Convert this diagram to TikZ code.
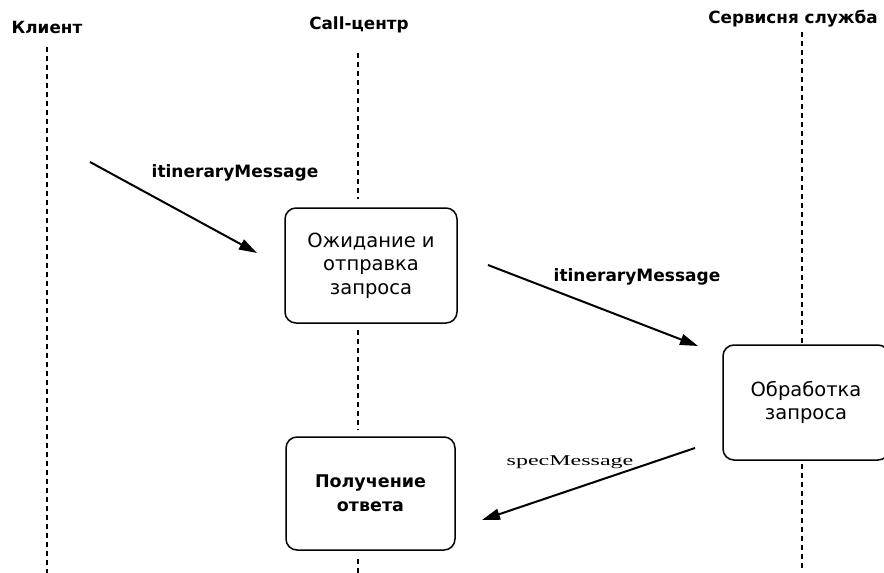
\documentclass[tikz,border=0pt]{standalone}
\usepackage{fontspec}
\setmainfont{DejaVu Sans}
\newfontfamily\serifwide[FakeStretch=1.6]{Liberation Serif}
\usetikzlibrary{arrows.meta}
\tikzset{
  lifeline/.style={dashed, dash pattern=on 5pt off 4pt, line width=1.1pt},
  actbox/.style={draw, rounded corners=11pt, line width=1.5pt, align=center,
    font=\fontsize{19.5}{23.5}\selectfont},
  headlabel/.style={font=\bfseries\fontsize{16.8}{20}\selectfont},
  msg/.style={line width=2pt, -{Triangle[length=18pt,width=11pt]}},
  msglabel/.style={font=\bfseries\fontsize{17}{20}\selectfont}
}
\begin{document}
\begin{tikzpicture}[x=1pt,y=-1pt]
\useasboundingbox (0,0) rectangle (884,573);
\clip (0,0) rectangle (884,573);

% Marking the lifeline heads
\node[headlabel] (client) at (47,27) {Клиент};
\node[headlabel] (callc) at (359,25) {Call-центр};
\node[headlabel] (serv) at (793,19) {Сервисня служба};

% Marking the activity boxes
\node[actbox, minimum width=172pt, minimum height=115pt] (wait) at (371,265.5) {Ожидание и\\отправка\\запроса};
\node[actbox, minimum width=166pt, minimum height=115pt] (proc) at (806,402.5) {Обработка\\запроса};
\node[actbox, minimum width=169pt, minimum height=113pt, font=\bfseries\fontsize{17.5}{24}\selectfont] (recv) at (370.5,493.5) {Получение\\ответа};

% Drawing lifeline of the client
\coordinate (clientTop) at (47,47);
\coordinate (clientEnd) at (47,573);
\draw[lifeline] (clientTop) -- (clientEnd);

% Drawing lifeline of the call-centre
\coordinate (callTop) at (358,53);
\coordinate (callEnd) at (358,573);
\draw[lifeline] (callTop) -- ([yshift=8pt]callTop |- wait.north);
\draw[lifeline] ([yshift=-6pt]callTop |- wait.south) -- ([yshift=6pt]callTop |- recv.north);
\draw[lifeline] ([yshift=-8pt]callTop |- recv.south) -- (callEnd);

% Drawing lifeline of the service
\coordinate (servTop) at (802,32);
\coordinate (servEnd) at (802,568);
\draw[lifeline] (servTop) -- (servTop |- proc.north);
\draw[lifeline] ([yshift=-3pt]servTop |- proc.south) -- (servEnd);

% Drawing message from client
\coordinate (msgA) at (90,162);
\coordinate (msgB) at (257,253);
\draw[msg] (msgA) -- (msgB);
\node[msglabel] (itin1) at (235,173) {itineraryMessage};

% Drawing message to the service
\coordinate (msgC) at (488,265);
\coordinate (msgD) at (698,346);
\draw[msg] (msgC) -- (msgD);
\node[msglabel] (itin2) at (637,277) {itineraryMessage};

% Drawing answer message
\coordinate (msgE) at (695,448);
\coordinate (msgF) at (482,520);
\draw[msg] (msgE) -- (msgF);
\node[font=\serifwide\fontsize{15}{17}\selectfont] (spec) at (570,462) {specMessage};
\end{tikzpicture}
\end{document}
